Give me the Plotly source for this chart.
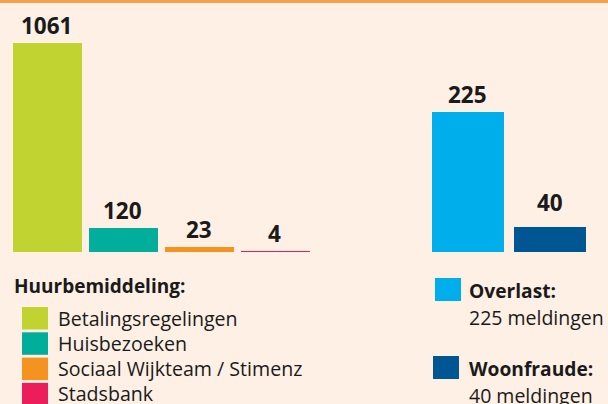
import plotly.graph_objects as go

W, H = 608, 404

# Data
huur_categories = ["Betalingsregelingen", "Huisbezoeken", "Sociaal Wijkteam / Stimenz", "Stadsbank"]
huur_values = [1061, 120, 23, 4]
huur_colors = ["#C0D331", "#00AE9B", "#F4931F", "#EC1D5B"]

melding_categories = ["Overlast", "Woonfraude"]
melding_values = [225, 40]
melding_colors = ["#00AEEC", "#005692"]
melding_subtext = ["225 meldingen", "40 meldingen"]

legend_title = "Huurbemiddeling:"

BG = "#FEF0E4"
TXT = "#1A1A1A"
FONT = "Open Sans"

def px(v):
    return v / W

def py(v):
    return 1 - v / H

fig = go.Figure()

fig.add_trace(go.Bar(
    x=list(range(len(huur_values))), y=huur_values,
    marker=dict(color=huur_colors, line=dict(width=0)),
    width=0.908, xaxis="x", yaxis="y", hoverinfo="skip", showlegend=False,
))
fig.add_trace(go.Bar(
    x=list(range(len(melding_values))), y=melding_values,
    marker=dict(color=melding_colors, line=dict(width=0)),
    width=0.89, xaxis="x2", yaxis="y2", hoverinfo="skip", showlegend=False,
))

annotations = []
for i, v in enumerate(huur_values):
    annotations.append(dict(
        x=i, y=v, xref="x", yref="y", text=f"<b>{v}</b>", showarrow=False,
        yanchor="bottom", yshift=0, font=dict(family=FONT, size=22.5, color=TXT),
    ))
label_shift = [0, 7]
for i, v in enumerate(melding_values):
    annotations.append(dict(
        x=i, y=v, xref="x2", yref="y2", text=f"<b>{v}</b>", showarrow=False,
        yanchor="bottom", yshift=label_shift[i], font=dict(family=FONT, size=22.5, color=TXT),
    ))

# Left legend
annotations.append(dict(
    x=px(12), y=py(286), xref="paper", yref="paper", text=f"<b>{legend_title}</b>",
    showarrow=False, xanchor="left", yanchor="middle",
    font=dict(family=FONT, size=19, color=TXT),
))
shapes = []
row_top = 307
row_pitch = 25.3
for i, (name, col) in enumerate(zip(huur_categories, huur_colors)):
    top = row_top + i * row_pitch
    shapes.append(dict(type="rect", xref="paper", yref="paper",
                       x0=px(22), x1=px(48), y0=py(top), y1=py(top + 22.5),
                       fillcolor=col, line=dict(width=0)))
    annotations.append(dict(
        x=px(56), y=py(top + 11), xref="paper", yref="paper", text=name,
        showarrow=False, xanchor="left", yanchor="middle",
        font=dict(family=FONT, size=19.6, color=TXT),
    ))

# Right legend
right_rows = [278, 356]
for i, (name, col, sub) in enumerate(zip(melding_categories, melding_colors, melding_subtext)):
    top = right_rows[i]
    x0 = 435 if i == 0 else 433
    shapes.append(dict(type="rect", xref="paper", yref="paper",
                       x0=px(x0), x1=px(x0 + 26), y0=py(top), y1=py(top + 23),
                       fillcolor=col, line=dict(width=0)))
    annotations.append(dict(
        x=px(467), y=py(top + 12), xref="paper", yref="paper", text=f"<b>{name}:</b>",
        showarrow=False, xanchor="left", yanchor="middle",
        font=dict(family=FONT, size=19.2, color=TXT),
    ))
    annotations.append(dict(
        x=px(467), y=py(top + 39), xref="paper", yref="paper", text=sub,
        showarrow=False, xanchor="left", yanchor="middle",
        font=dict(family=FONT, size=19.5, color=TXT),
    ))

# Top orange rule
shapes.append(dict(type="rect", xref="paper", yref="paper", x0=0, x1=1,
                   y0=py(3), y1=1, fillcolor="#F7A04B", line=dict(width=0)))

base = 252
fig.update_layout(
    width=W, height=H,
    margin=dict(l=0, r=0, t=0, b=0),
    paper_bgcolor=BG, plot_bgcolor=BG,
    bargap=0,
    xaxis=dict(domain=[px(8.5), px(312.5)], range=[-0.5, 3.5], visible=False, fixedrange=True),
    yaxis=dict(domain=[py(base), 1], range=[0, base / (209 / 1061)], visible=False, fixedrange=True),
    xaxis2=dict(domain=[px(426.5), px(590.5)], range=[-0.5, 1.5], visible=False, fixedrange=True, anchor="y2"),
    yaxis2=dict(domain=[py(base), 1], range=[0, base / (140.5 / 225)], visible=False, fixedrange=True, anchor="x2"),
    annotations=annotations,
    shapes=shapes,
    showlegend=False,
)

fig.write_html("out.html")
